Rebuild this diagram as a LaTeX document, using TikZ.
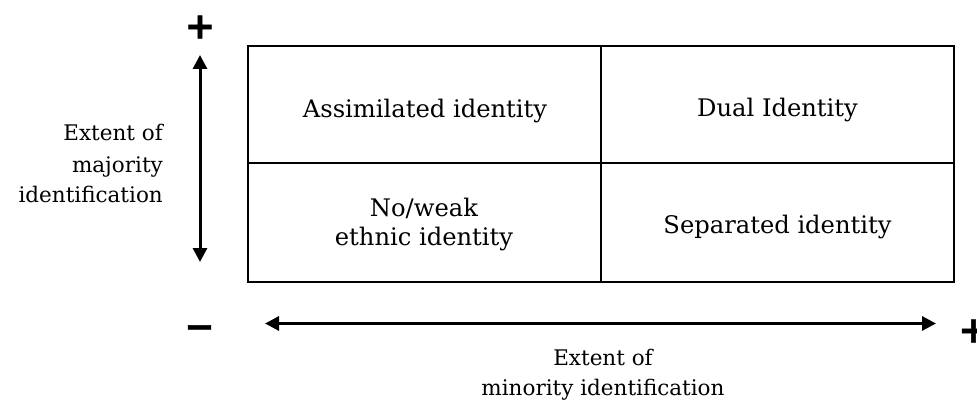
\documentclass[tikz,border=0pt]{standalone}
\usepackage{fontspec}
\setmainfont{DejaVu Serif}
\newfontfamily\signfont[FakeBold=1.5]{DejaVu Sans Bold}
\usetikzlibrary{arrows.meta}
\begin{document}
\begin{tikzpicture}[x=1pt,y=-1pt,
  lbl/.style={font=\fontsize{21.5}{30}\selectfont, inner sep=0pt, anchor=base},
  cell/.style={font=\fontsize{24.2}{30}\selectfont, inner sep=0pt, anchor=base},
  gridline/.style={line width=2pt},
  axis/.style={line width=3pt, {Triangle[length=14pt,width=14pt]}-{Triangle[length=14pt,width=14pt]}},
  sign/.style={font=\signfont\fontsize{36}{40}\selectfont, inner sep=0pt}]
\useasboundingbox (0,0) rectangle (977,401);
% grid
\draw[gridline] (248,46) rectangle (954,282);
\draw[gridline] (601,46) -- (601,282);
\draw[gridline] (248,163) -- (954,163);
% cell texts
\node[cell] (assim) at (425,117.5) {Assimilated identity};
\node[cell] (dual) at (777.5,117) {Dual Identity};
\node[cell] (noweak1) at (424,216) {No/weak};
\node[cell] (noweak2) at (424,245.5) {ethnic identity};
\node[cell] (sep) at (777.5,233) {Separated identity};
% axis labels
\node[lbl, anchor=base east] (maj1) at (163,141) {Extent of};
\node[lbl, anchor=base east] (maj2) at (163,172) {majority};
\node[lbl, anchor=base east] (maj3) at (163,202) {identification};
\node[lbl] (min1) at (603,365) {Extent of};
\node[lbl] (min2) at (603,395) {minority identification};
% arrows
\coordinate (vtop) at (200,55);
\coordinate (vbot) at (200,262);
\draw[axis] (vtop) -- (vbot);
\coordinate (hleft) at (265,323.5);
\coordinate (hright) at (936,323.5);
\draw[axis] (hleft) -- (hright);
% signs
\node[sign] (plustop) at (200,27) {+};
\node[sign] (minus) at (199.5,332) {−};
\node[sign] (plusright) at (973.5,331) {+};
\end{tikzpicture}
\end{document}
